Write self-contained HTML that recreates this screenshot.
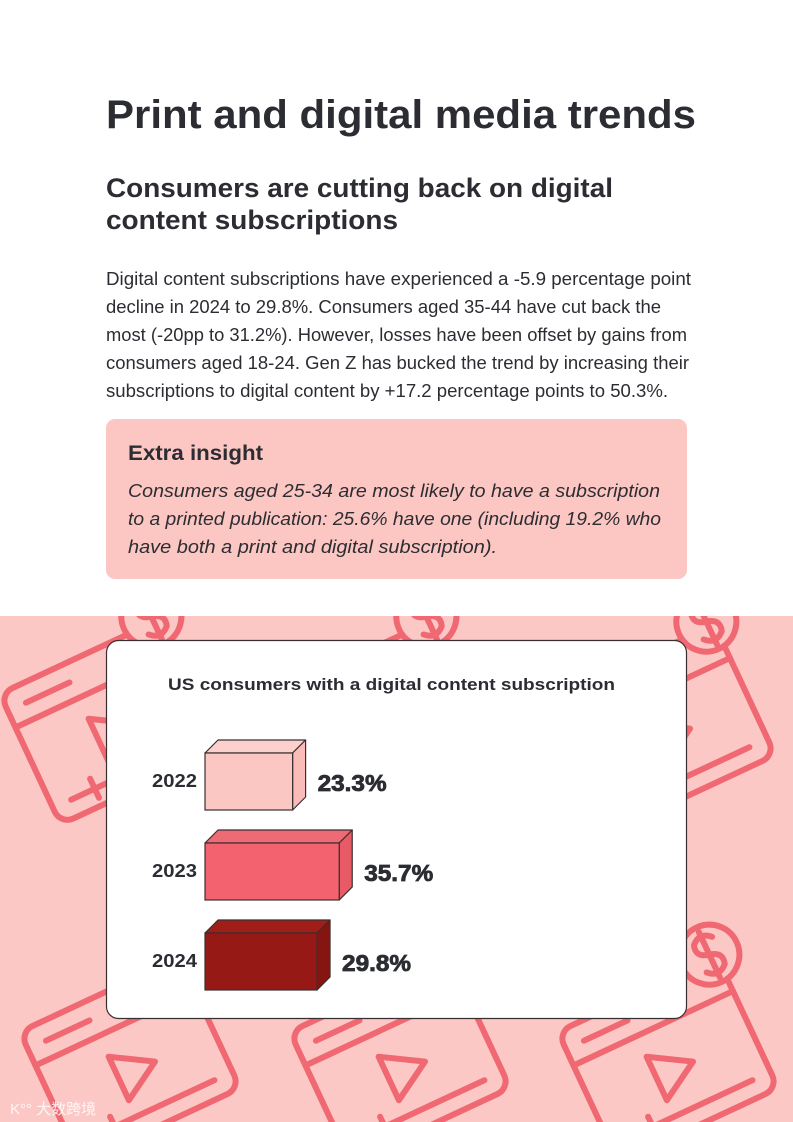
<!DOCTYPE html>
<html><head><meta charset="utf-8"><style>
html,body{margin:0;padding:0;background:#fff;}
svg{display:block;}
text{font-family:"Liberation Sans",sans-serif;fill:#2b2d33;}
</style></head><body>
<svg width="793" height="1122" viewBox="0 0 793 1122" xmlns="http://www.w3.org/2000/svg">
<defs>
<clipPath id="bgclip"><rect x="0" y="616" width="793" height="506"/></clipPath>
<g id="icon" fill="none" stroke="#f06872" stroke-width="6" stroke-linecap="round" stroke-linejoin="round">
  <rect x="-88" y="-72" width="176" height="144" rx="14"/>
  <line x1="-88" y1="-35" x2="88" y2="-35"/>
  <line x1="-68" y1="-53" x2="-20" y2="-53"/>
  <path d="M-18,-12 L22,12 L-18,36 Z"/>
  <line x1="-68" y1="54" x2="68" y2="54"/>
  <line x1="-42" y1="43" x2="-42" y2="64"/>
  <circle cx="82" cy="-78" r="30" fill="#fbc8c5"/>
  <path d="M92,-93 Q82,-103 72,-93 Q68,-81 82,-78 Q96,-75 92,-63 Q82,-53 72,-63 M82,-103 L82,-53"/>
</g>
</defs>

<text x="106" y="128" font-size="40" font-weight="bold" textLength="590" lengthAdjust="spacingAndGlyphs">Print and digital media trends</text>
<text x="106" y="197" font-size="27" font-weight="bold" textLength="507" lengthAdjust="spacingAndGlyphs">Consumers are cutting back on digital</text>
<text x="106" y="229" font-size="27" font-weight="bold" textLength="292" lengthAdjust="spacingAndGlyphs">content subscriptions</text>

<g font-size="18">
<text x="106" y="285" textLength="585" lengthAdjust="spacingAndGlyphs">Digital content subscriptions have experienced a -5.9 percentage point</text>
<text x="106" y="313" textLength="555" lengthAdjust="spacingAndGlyphs">decline in 2024 to 29.8%. Consumers aged 35-44 have cut back the</text>
<text x="106" y="341" textLength="581" lengthAdjust="spacingAndGlyphs">most (-20pp to 31.2%). However, losses have been offset by gains from</text>
<text x="106" y="369" textLength="583" lengthAdjust="spacingAndGlyphs">consumers aged 18-24. Gen Z has bucked the trend by increasing their</text>
<text x="106" y="397" textLength="562" lengthAdjust="spacingAndGlyphs">subscriptions to digital content by +17.2 percentage points to 50.3%.</text>
</g>

<rect x="106" y="419" width="581" height="160" rx="9" fill="#fcc7c3"/>
<text x="128" y="460" font-size="21" font-weight="bold" textLength="135" lengthAdjust="spacingAndGlyphs">Extra insight</text>
<g font-size="18" font-style="italic">
<text x="128" y="497" textLength="532" lengthAdjust="spacingAndGlyphs">Consumers aged 25-34 are most likely to have a subscription</text>
<text x="128" y="525" textLength="533" lengthAdjust="spacingAndGlyphs">to a printed publication: 25.6% have one (including 19.2% who</text>
<text x="128" y="553" textLength="369" lengthAdjust="spacingAndGlyphs">have both a print and digital subscription).</text>
</g>

<rect x="0" y="616" width="793" height="506" fill="#fbc8c5"/>
<g clip-path="url(#bgclip)">
  <use href="#icon" transform="translate(110,722) rotate(-25)"/>
  <use href="#icon" transform="translate(385,722) rotate(-25)"/>
  <use href="#icon" transform="translate(665,727) rotate(-25)"/>
  <use href="#icon" transform="translate(130,1060) rotate(-25)"/>
  <use href="#icon" transform="translate(400,1060) rotate(-25)"/>
  <use href="#icon" transform="translate(668,1060) rotate(-25)"/>
</g>

<rect x="106.5" y="640.5" width="580" height="378" rx="12" fill="#fff" stroke="#3a2f30" stroke-width="1.2"/>
<text x="168" y="690" font-size="17" font-weight="bold" textLength="447" lengthAdjust="spacingAndGlyphs">US consumers with a digital content subscription</text>
<g id="chart"></g>

<text x="10" y="1114" font-size="15" style="fill:#ffffff;opacity:0.85" font-family="'Liberation Sans','Noto Sans CJK SC',sans-serif">K°° 大数跨境</text>
</svg>
<script>
const years = ["2022","2023","2024"];
const values = [23.3, 35.7, 29.8];
const labels = ["23.3%","35.7%","29.8%"];
const fronts = ["#fbc7c3","#f2636f","#961915"];
const sides = ["#f9bcb8","#e85a66","#861512"];
const tops = ["#fcd0cc","#ee6a74","#a01d18"];

const NS = "http://www.w3.org/2000/svg";
const g = document.getElementById("chart");
const x0 = 205, pxPer = 3.76, y0 = 753, step = 90, h = 57, dx = 13, dy = 13;
function xScale(v){ return x0 + v * pxPer; }
function yScale(i){ return y0 + i * step; }
function mk(tag, attrs){ const e = document.createElementNS(NS, tag); for (const k in attrs) e.setAttribute(k, attrs[k]); g.appendChild(e); return e; }

years.forEach((yr, i) => {
  const xr = xScale(values[i]), yt = yScale(i), yb = yt + h;
  const top = mk("polygon", {points:`${x0},${yt} ${x0+dx},${yt-dy} ${xr+dx},${yt-dy} ${xr},${yt}`, fill:tops[i], stroke:"#3a2f30", "stroke-width":"1.2", "stroke-linejoin":"round"});
  
  
  const side = mk("polygon", {points:`${xr},${yt} ${xr+dx},${yt-dy} ${xr+dx},${yb-dy} ${xr},${yb}`, fill:sides[i], stroke:"#3a2f30", "stroke-width":"1.2", "stroke-linejoin":"round"});
  
  
  const front = mk("rect", {x:x0, y:yt, width:xr-x0, height:h, fill:fronts[i], stroke:"#3a2f30", "stroke-width":"1.2"});
  
  
  const yl = mk("text", {x:152, y:yt+34, "font-size":"18", "font-weight":"bold", textLength:"45", lengthAdjust:"spacingAndGlyphs"});
  yl.textContent = yr;
  
  
  const vl = mk("text", {x:xr+25, y:yt+38, "font-size":"23", "font-weight":"bold", stroke:"#2b2d33", "stroke-width":"0.8", textLength:"69", lengthAdjust:"spacingAndGlyphs"});
  vl.textContent = labels[i];
  
  
});
</script>
</body></html>
